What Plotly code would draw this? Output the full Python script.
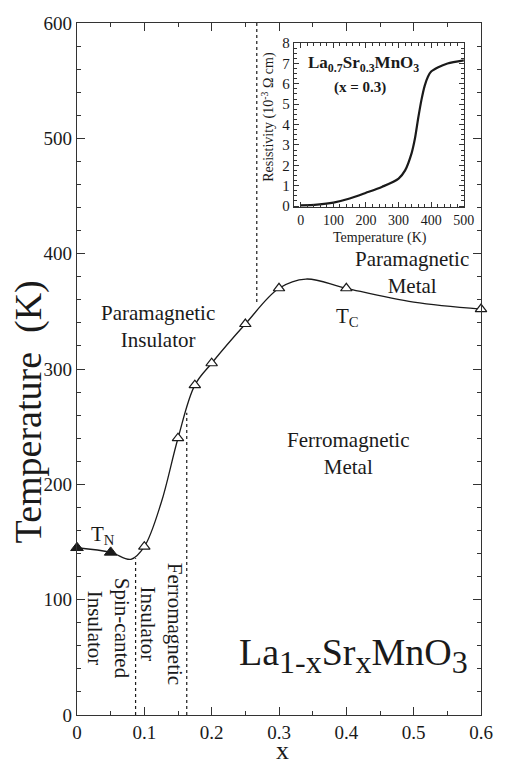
import plotly.graph_objects as go

# ---------------- data ----------------
# Curie temperatures (open triangles)
x_open = [0.1, 0.15, 0.175, 0.2, 0.25, 0.3, 0.4, 0.6]
T_open = [146, 240, 286, 305, 339, 370, 370, 352]
# Neel temperatures (filled triangles)
x_filled = [0.0, 0.05]
T_filled = [145, 141]
# smooth phase boundary line
curve_x = [0.0, 0.05, 0.08, 0.1, 0.125, 0.15, 0.175, 0.2, 0.25, 0.3, 0.34, 0.4, 0.5, 0.6]
curve_T = [145, 141, 135, 146, 184, 240, 286, 305, 339, 370, 378, 370, 358, 352]
# dotted vertical phase boundaries
boundary_x = [0.267, 0.087, 0.163]
boundary_T_low = [358, 0, 0]
boundary_T_high = [600, 136, 262]

# inset: resistivity of La0.7Sr0.3MnO3
inset_T = [0, 50, 100, 150, 200, 250, 300, 320, 340, 350, 360, 370, 380, 390, 400, 420, 450, 500]
inset_rho = [0.03, 0.07, 0.17, 0.37, 0.65, 0.95, 1.35, 1.75, 2.6, 3.3, 4.3, 5.2, 5.9, 6.35, 6.6, 6.8, 7.0, 7.15]

x_ticks = [0, 0.1, 0.2, 0.3, 0.4, 0.5, 0.6]
x_ticklabels = ["0", "0.1", "0.2", "0.3", "0.4", "0.5", "0.6"]
y_ticks = [0, 100, 200, 300, 400, 500, 600]

FONT = "Liberation Serif, Times New Roman, serif"
INK = "#1a1a1a"

fig = go.Figure()

# phase boundary curve
fig.add_trace(go.Scatter(x=curve_x, y=curve_T, mode="lines",
                         line=dict(color=INK, width=1.3, shape="spline", smoothing=1.0),
                         showlegend=False, hoverinfo="skip"))
# dotted boundaries
for bx, lo, hi in zip(boundary_x, boundary_T_low, boundary_T_high):
    fig.add_trace(go.Scatter(x=[bx, bx], y=[lo, hi], mode="lines",
                             line=dict(color=INK, width=1.2, dash="dot"),
                             showlegend=False, hoverinfo="skip"))
# markers
fig.add_trace(go.Scatter(x=x_open, y=T_open, mode="markers",
                         marker=dict(symbol="triangle-up", size=10, color="white",
                                     line=dict(color=INK, width=1.2)),
                         showlegend=False, cliponaxis=False))
fig.add_trace(go.Scatter(x=x_filled, y=T_filled, mode="markers",
                         marker=dict(symbol="triangle-up", size=11, color=INK,
                                     line=dict(color=INK, width=1)),
                         showlegend=False, cliponaxis=False))

# inset curve
fig.add_trace(go.Scatter(x=inset_T, y=inset_rho, mode="lines", xaxis="x2", yaxis="y2",
                         line=dict(color=INK, width=2.2, shape="spline", smoothing=0.8),
                         showlegend=False))

axis_common = dict(showline=True, linecolor="#333", linewidth=1.4, mirror="allticks",
                   ticks="inside", tickcolor="#333", showgrid=False, zeroline=False)

fig.update_layout(
    width=505, height=767,
    margin=dict(l=77, r=13, t=23, b=52),
    paper_bgcolor="white", plot_bgcolor="white",
    font=dict(family=FONT, color=INK),
    xaxis=dict(range=[0, 0.6], tickvals=x_ticks, ticktext=x_ticklabels, ticklen=8, tickwidth=1.2,
               tickfont=dict(size=19, family=FONT, color=INK),
               minor=dict(dtick=0.05, ticklen=4, ticks="inside", tickcolor="#333"),
               **axis_common),
    yaxis=dict(range=[0, 600], tickvals=y_ticks, ticklen=8, tickwidth=1.2,
               tickfont=dict(size=19, family=FONT, color=INK),
               minor=dict(dtick=20, ticklen=4, ticks="inside", tickcolor="#333"),
               **axis_common),
    xaxis2=dict(domain=[0.537, 0.959], anchor="y2", range=[-21, 502], dtick=100, tick0=0,
                ticklen=5, tickfont=dict(size=14, family=FONT, color=INK),
                minor=dict(dtick=20, ticklen=3, ticks="inside", tickcolor="#333"),
                **axis_common),
    yaxis2=dict(domain=[0.734, 0.971], anchor="x2", range=[-0.05, 8.0], dtick=1, tick0=0,
                ticklen=5, tickfont=dict(size=15, family=FONT, color=INK),
                minor=dict(dtick=0.25, ticklen=3, ticks="inside", tickcolor="#333"),
                **axis_common),
)

ann = []
def A(text, x, y, size, xref="x", yref="y", angle=0, **kw):
    d = dict(text=text, x=x, y=y, xref=xref, yref=yref, showarrow=False, textangle=angle,
             font=dict(family=FONT, size=size, color=INK), xanchor="center", yanchor="middle")
    d.update(kw)
    ann.append(d)

# axis titles
A("Temperature  (K)", -0.12, 0.438, 38, xref="paper", yref="paper", angle=-90)
A("x", 0.508, -0.0745, 26, xref="paper", yref="paper", yanchor="bottom")

# region labels
A("Paramagnetic<br>Insulator", 0.12, 337, 21)
A("Paramagnetic<br>Metal", 0.497, 384, 21)
A("T<sub>C</sub>", 0.402, 345, 21)
A("Ferromagnetic<br>Metal", 0.402, 227, 21)
A("T<sub>N</sub>", 0.039, 156, 21)
A("Spin-canted<br>Insulator", 0.047, 75, 21, angle=90)
A("Ferromagnetic<br>Insulator", 0.125, 79, 21, angle=90)
A("La<sub><span style=\"font-size:32px\">1-x</span></sub>Sr<sub><span style=\"font-size:32px\">x</span></sub>"
  "MnO<sub><span style=\"font-size:32px\">3</span></sub>", 0.411, 52, 38)

# inset labels
A("<b>La<sub>0.7</sub>Sr<sub>0.3</sub>MnO<sub>3</sub></b>", 191, 6.95, 17, xref="x2", yref="y2")
A("<b>(x = 0.3)</b>", 182, 5.8, 15, xref="x2", yref="y2")
A("Resistivity (10<sup>-3</sup> Ω cm)", 0.472, 0.864, 14, xref="paper", yref="paper", angle=-90)
A("Temperature (K)", 0.749, 0.690, 14, xref="paper", yref="paper")

fig.update_layout(annotations=ann)

fig.write_html("out.html", config={"displayModeBar": False},
               post_script="document.body.style.margin='0px';document.body.style.padding='0px';")
